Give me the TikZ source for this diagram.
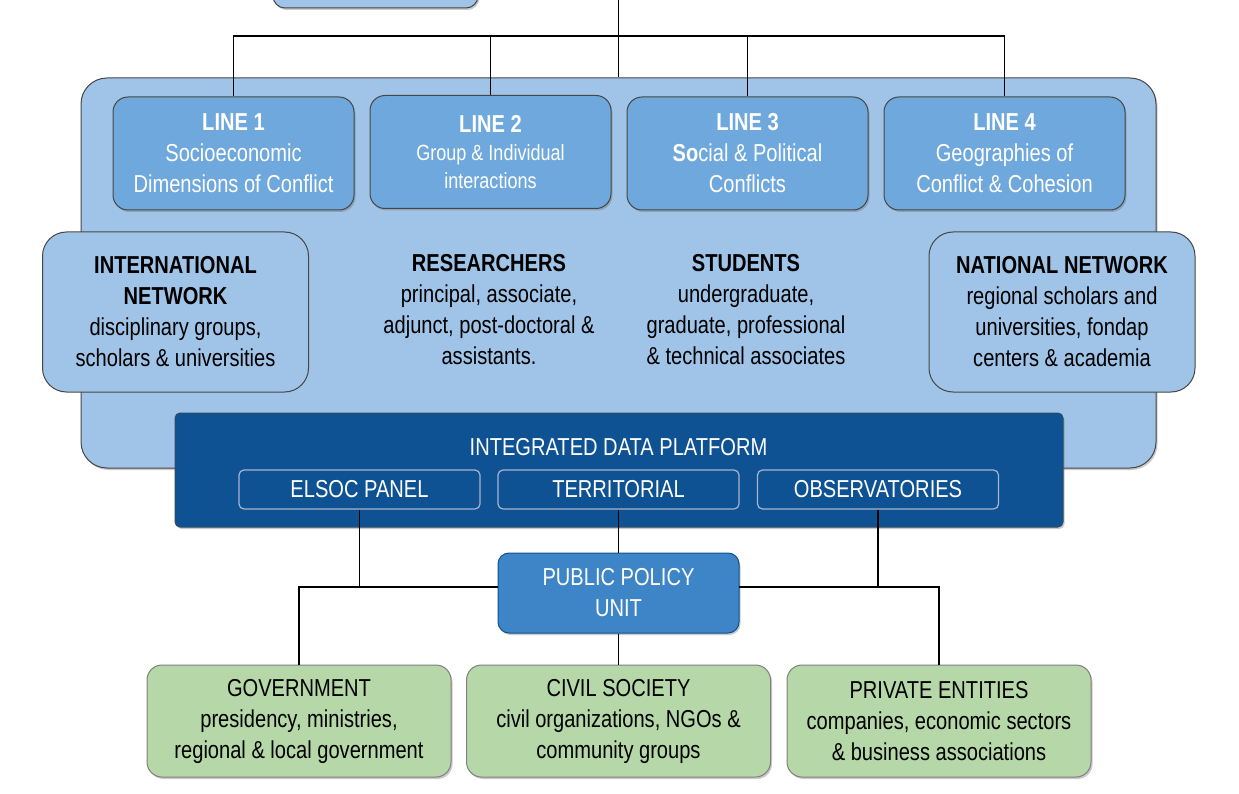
\documentclass[tikz,border=0pt]{standalone}
\usepackage{fontspec}
\setmainfont[FakeStretch=0.82]{Liberation Sans}
\usetikzlibrary{shadows,calc}
\definecolor{panelblue}{RGB}{160,196,232}
\definecolor{lineblue}{RGB}{111,168,220}
\definecolor{darkblue}{RGB}{14,82,147}
\definecolor{midblue}{RGB}{61,133,198}
\definecolor{greenbox}{RGB}{182,215,168}
\definecolor{edgegray}{RGB}{70,70,70}
\definecolor{subedge}{RGB}{170,180,205}
\begin{document}
\begin{tikzpicture}[x=1pt,y=-1pt,
  txt/.style={font=\fontsize{24.5}{31}\selectfont, align=center, inner sep=0pt},
  shad/.style={drop shadow={shadow xshift=1.5pt,shadow yshift=-2pt,opacity=.35,fill=black!60}},
  panelbox/.style={txt, draw=edgegray, line width=1pt, fill=panelblue, rounded corners=26pt, shad},
  netbox/.style={txt, draw=edgegray, line width=1pt, fill=panelblue, rounded corners=24pt, text=black, minimum width=266, minimum height=160},
  linebox/.style={txt, draw=edgegray, line width=1pt, fill=lineblue, rounded corners=15pt, text=white, minimum width=241, minimum height=113, shad},
  platbox/.style={txt, draw=edgegray!60!darkblue, line width=1pt, fill=darkblue, rounded corners=5pt, text=white, shad},
  subbox/.style={txt, draw=subedge, line width=1.2pt, fill=darkblue, rounded corners=5pt, text=white, minimum width=241, minimum height=39},
  ppubox/.style={txt, draw=darkblue, line width=1pt, fill=midblue, rounded corners=11pt, text=white, minimum width=241, minimum height=80, shad},
  greenbx/.style={txt, draw=black!50, line width=1pt, fill=greenbox, rounded corners=15pt, text=black, minimum width=304, minimum height=112, shad},
  conn/.style={draw=black, line width=1.3pt}
]
\useasboundingbox (0,0) rectangle (1239,794);

% top partial box
\node[panelbox, rounded corners=12pt, minimum width=205, minimum height=60] (topbox) at (375.5,-22) {};
\coordinate (topc) at (618.5,-5);
\coordinate (bar) at (618.5,36);

% big panel
\node[panelbox, minimum width=1075, minimum height=390] (panel) at (618.5,273) {};

% connector from top
\draw[conn] (topc) -- (panel.north);

% line boxes
\node[linebox] (l1) at (233.5,153.5) {\textbf{LINE 1}\\Socioeconomic\\Dimensions of Conflict};
\node[linebox, font=\fontsize{22}{28}\selectfont] (l2) at (490.5,152) {\textbf{\fontsize{24.5}{31}\selectfont LINE 2}\\Group \& Individual\\interactions};
\node[linebox] (l3) at (747.5,153.5) {\textbf{LINE 3}\\\textbf{So}cial \& Political\\Conflicts};
\node[linebox] (l4) at (1004.5,153.5) {\textbf{LINE 4}\\Geographies of\\Conflict \& Cohesion};

\draw[conn] (l1.north) |- (bar) -| (l4.north);
\draw[conn] (l2.north) -- (l2.north |- bar);
\draw[conn] (l3.north) -- (l3.north |- bar);

% networks
\node[netbox] (intl) at (175.5,312) {\textbf{INTERNATIONAL}\\\textbf{NETWORK}\\disciplinary groups,\\scholars \& universities};
\node[netbox] (natl) at (1062,312) {\textbf{NATIONAL NETWORK}\\regional scholars and\\universities, fondap\\centers \& academia};

\node[txt, text=black] (res) at (489,310) {\textbf{RESEARCHERS}\\principal, associate,\\adjunct, post-doctoral \&\\assistants.};
\node[txt, text=black] (stu) at (746,310) {\textbf{STUDENTS}\\undergraduate,\\graduate, professional\\\& technical associates};

% data platform
\node[platbox, minimum width=888, minimum height=114] (plat) at (619,470) {};
\node[txt, text=white] (plattitle) at (618.5,447) {INTEGRATED DATA PLATFORM};
\node[subbox] (elsoc) at (359.5,489.5) {ELSOC PANEL};
\node[subbox] (terr) at (618.5,489.5) {TERRITORIAL};
\node[subbox] (obs) at (878,489.5) {OBSERVATORIES};

% public policy unit
\node[ppubox] (ppu) at (618.5,593) {PUBLIC POLICY\\UNIT};

% green boxes
\node[greenbx] (gov) at (299,721) {GOVERNMENT\\presidency, ministries,\\regional \& local government};
\node[greenbx] (civ) at (618.5,721) {CIVIL SOCIETY\\civil organizations, NGOs \&\\community groups};
\node[greenbx] (priv) at (939,721) {PRIVATE ENTITIES\\companies, economic sectors\\\& business associations};

% lower connectors
\coordinate (hl) at (498,587);
\coordinate (hr) at (739,587);
\draw[conn] (terr.south) -- (ppu.north);
\draw[conn] (elsoc.south) -- (elsoc.south |- hl);
\draw[conn] (obs.south) -- (obs.south |- hr);
\draw[conn] (hl) -| (gov.north);
\draw[conn] (hr) -| (priv.north);
\draw[conn] (ppu.south) -- (civ.north);
\end{tikzpicture}
\end{document}
